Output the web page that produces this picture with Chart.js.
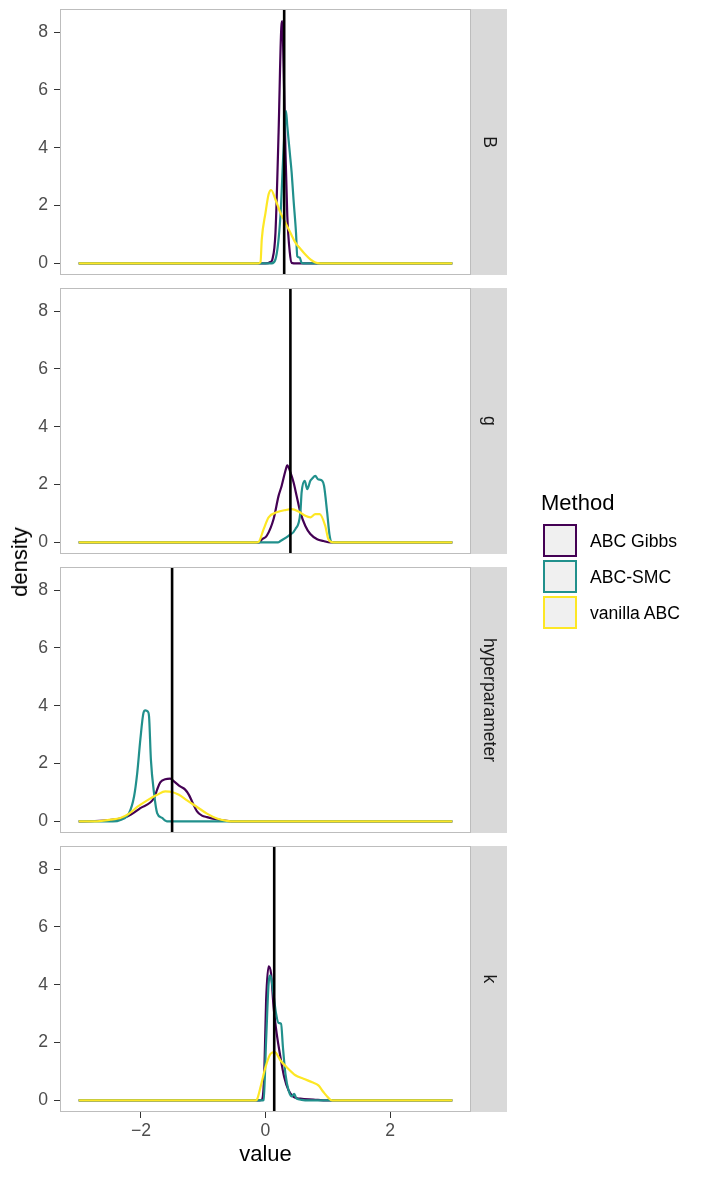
<!DOCTYPE html>
<html>
<head>
<meta charset="utf-8">
<script src="https://cdn.jsdelivr.net/npm/chart.js@4"></script>
<style>
body{margin:0;background:#fff;font-family:"Liberation Sans",Arial,sans-serif}
#wrap{position:relative;width:709px;height:1180px;overflow:hidden}
canvas{position:absolute;left:0}
#ytitle{position:absolute;left:20px;top:562px;font-size:22px;line-height:26px;color:#000;white-space:nowrap;transform:translate(-50%,-50%) rotate(-90deg)}
#legTitle{position:absolute;left:541px;top:490px;font-size:22px;line-height:26px;color:#000}
.key{position:absolute;left:543px;width:34px;height:33px;box-sizing:border-box;border:2px solid;background:#F0F0F0}
.keyLab{position:absolute;left:590px;font-size:17.6px;line-height:20px;color:#000;white-space:nowrap}
</style>
</head>
<body>
<div id="wrap">
  <canvas id="p0" width="709" height="279" style="top:0px"></canvas>
  <canvas id="p1" width="709" height="279" style="top:279px"></canvas>
  <canvas id="p2" width="709" height="279" style="top:558px"></canvas>
  <canvas id="p3" width="709" height="343" style="top:837px"></canvas>
  <div id="ytitle">density</div>
  <div id="legTitle">Method</div>
  <div id="legend"></div>
</div>
<script>
// facets, methods, ticks
const panels  = ['B','g','hyperparameter','k'];
const methods = ['ABC Gibbs','ABC-SMC','vanilla ABC'];
const colors  = ['#440154','#21908C','#FDE725'];
const xTicks  = [-2,0,2];
const yTicks  = [0,2,4,6,8];
const trueValues = [0.30,0.40,-1.50,0.14];

// density curves [value, density]
const gibbsB = [[-3,0],[0.0,0],[0.08,0.05],[0.11,0.14],[0.16,1.06],[0.21,4.52],[0.25,7.98],[0.27,8.38],[0.29,6.83],[0.32,3.94],[0.35,1.64],[0.39,0.38],[0.42,0.02],[0.5,0],[3,0]];
const smcB   = [[-3,0],[0.1,0],[0.16,0.14],[0.24,1.64],[0.29,3.94],[0.33,5.27],[0.35,4.75],[0.39,3.83],[0.42,3.14],[0.45,2.21],[0.49,1.06],[0.51,0.25],[0.55,0.2],[0.58,0.02],[0.65,0],[3,0]];
const vanB   = [[-3,0],[-0.12,0],[-0.08,0.05],[-0.06,0.83],[0.0,1.75],[0.05,2.39],[0.09,2.54],[0.16,2.21],[0.24,1.75],[0.32,1.41],[0.40,1.06],[0.48,0.72],[0.56,0.51],[0.64,0.31],[0.72,0.14],[0.80,0.03],[0.88,0],[3,0]];

const gibbsG = [[-3,0],[-0.1,0],[-0.06,0.1],[0.02,0.23],[0.13,0.81],[0.21,1.61],[0.26,1.96],[0.32,2.48],[0.35,2.67],[0.40,2.42],[0.45,2.08],[0.50,1.61],[0.56,1.04],[0.64,0.57],[0.72,0.29],[0.83,0.11],[0.93,0.05],[1.04,0],[3,0]];
const smcG   = [[-3,0],[0.2,0],[0.24,0.05],[0.37,0.23],[0.48,0.46],[0.56,1.04],[0.58,1.73],[0.63,2.13],[0.67,1.84],[0.72,2.13],[0.75,2.21],[0.80,2.30],[0.84,2.19],[0.91,2.13],[0.94,1.96],[0.99,1.04],[1.03,0.23],[1.07,0],[3,0]];
const vanG   = [[-3,0],[-0.15,0],[-0.11,0.02],[-0.03,0.46],[0.05,0.87],[0.18,1.04],[0.32,1.12],[0.42,1.15],[0.53,1.07],[0.64,0.92],[0.72,0.87],[0.80,0.98],[0.87,0.98],[0.96,0.57],[1.01,0.11],[1.09,0],[3,0]];

const gibbsH = [[-3,0],[-2.8,0.01],[-2.5,0.05],[-2.22,0.17],[-2.01,0.46],[-1.79,0.81],[-1.74,1.10],[-1.69,1.35],[-1.61,1.46],[-1.53,1.48],[-1.45,1.35],[-1.37,1.21],[-1.29,1.10],[-1.23,0.92],[-1.18,0.69],[-1.10,0.35],[-1.02,0.20],[-0.94,0.15],[-0.80,0.08],[-0.62,0.02],[-0.5,0],[3,0]];
const smcH   = [[-3,0],[-2.45,0],[-2.33,0.05],[-2.19,0.29],[-2.11,0.87],[-2.06,1.67],[-2.01,2.83],[-1.96,3.75],[-1.93,3.84],[-1.89,3.80],[-1.87,3.63],[-1.84,2.13],[-1.79,0.98],[-1.74,0.29],[-1.66,0.12],[-1.61,0.03],[-1.58,0],[3,0]];
const vanH   = [[-3,0],[-2.75,0],[-2.49,0.06],[-2.33,0.12],[-2.19,0.27],[-2.06,0.50],[-1.90,0.73],[-1.74,0.92],[-1.61,1.04],[-1.50,1.02],[-1.39,0.92],[-1.26,0.73],[-1.10,0.50],[-0.94,0.27],[-0.78,0.10],[-0.62,0.02],[-0.51,0],[3,0]];

const gibbsK = [[-3,0],[-0.1,0],[-0.06,0.02],[-0.02,0.92],[0.01,3.46],[0.05,4.64],[0.09,4.38],[0.13,3.23],[0.18,2.31],[0.24,1.50],[0.30,0.81],[0.37,0.35],[0.45,0.12],[0.56,0.06],[0.77,0.03],[0.99,0],[3,0]];
const smcK   = [[-3,0],[-0.06,0],[-0.03,0.02],[0.01,2.08],[0.05,4.04],[0.08,4.33],[0.12,3.81],[0.17,3.00],[0.21,2.68],[0.25,2.65],[0.28,1.84],[0.32,0.92],[0.37,0.35],[0.42,0.14],[0.46,0.23],[0.50,0.06],[0.58,0.02],[0.66,0],[3,0]];
const vanK   = [[-3,0],[-0.16,0],[-0.14,0.02],[-0.08,0.46],[0.0,1.15],[0.08,1.61],[0.15,1.67],[0.24,1.38],[0.34,1.15],[0.48,0.87],[0.61,0.75],[0.75,0.63],[0.85,0.52],[0.93,0.29],[1.01,0.09],[1.07,0],[3,0]];

const curves = [[gibbsB,smcB,vanB],[gibbsG,smcG,vanG],[gibbsH,smcH,vanH],[gibbsK,smcK,vanK]];

const X_MIN=-3.3, X_MAX=3.3, Y_MIN=-0.4, Y_MAX=8.8;

Chart.defaults.font.family='"Liberation Sans", Arial, sans-serif';

// legend
const leg=document.getElementById('legend');
methods.forEach((m,i)=>{
  const top=524+i*36;
  const k=document.createElement('div');
  k.className='key'; k.style.top=top+'px'; k.style.borderColor=colors[i];
  leg.appendChild(k);
  const l=document.createElement('div');
  l.className='keyLab'; l.style.top=(top+16.5-10)+'px'; l.textContent=m;
  leg.appendChild(l);
});

// panel border + facet strip
const panelDeco={
  id:'panelDeco',
  afterDatasetsDraw(chart,args,opts){
    const {ctx,chartArea:a}=chart;
    ctx.save();
    ctx.strokeStyle='#BDBDBD'; ctx.lineWidth=1;
    ctx.strokeRect(a.left+0.5,a.top+0.5,a.width-1,a.height-1);
    ctx.fillStyle='#D9D9D9';
    ctx.fillRect(a.right,a.top,36,a.height);
    ctx.translate(a.right+18,(a.top+a.bottom)/2);
    ctx.rotate(Math.PI/2);
    ctx.fillStyle='#1A1A1A';
    ctx.font='17.6px "Liberation Sans", Arial, sans-serif';
    ctx.textAlign='center'; ctx.textBaseline='middle';
    ctx.fillText(opts.label,0,0);
    ctx.restore();
  }
};

const fmt=v=>v<0?'\u2212'+Math.abs(v):String(v);
const pts=arr=>arr.map(([x,y])=>({x,y}));
const noPad=s=>{s.paddingTop=0;s.paddingBottom=0;s.paddingLeft=0;s.paddingRight=0;};

function makePanel(i){
  const last=i===panels.length-1;
  // first dataset is drawn on top
  const datasets=[{
    data:[{x:trueValues[i],y:Y_MIN},{x:trueValues[i],y:Y_MAX}],
    borderColor:'#000',borderWidth:2.6
  }];
  for(let m=methods.length-1;m>=0;m--){
    datasets.push({label:methods[m],data:pts(curves[i][m]),borderColor:colors[m],borderWidth:2.2,cubicInterpolationMode:'monotone'});
  }
  return new Chart(document.getElementById('p'+i),{
    type:'line',
    data:{datasets},
    plugins:[panelDeco],
    options:{
      responsive:false,animation:false,devicePixelRatio:1,
      layout:{padding:{left:0,right:238,top:9,bottom:last?0:4}},
      elements:{point:{radius:0}},
      plugins:{legend:{display:false},tooltip:{enabled:false},panelDeco:{label:panels[i]}},
      scales:{
        x:{
          type:'linear',min:X_MIN,max:X_MAX,display:last,
          afterBuildTicks:s=>{s.ticks=xTicks.map(v=>({value:v}));},
          afterFit:s=>{s.height=last?68:0;noPad(s);},
          grid:{drawOnChartArea:false,tickLength:6,tickColor:'#333333'},
          border:{display:false},
          ticks:{color:'#4D4D4D',font:{size:17.6},padding:3,maxRotation:0,callback:v=>fmt(v)},
          title:{display:true,text:'value',color:'#000',font:{size:22},padding:{top:0,bottom:12}}
        },
        y:{
          type:'linear',min:Y_MIN,max:Y_MAX,
          afterBuildTicks:s=>{s.ticks=yTicks.map(v=>({value:v}));},
          afterFit:s=>{s.width=60;noPad(s);},
          grid:{drawOnChartArea:false,tickLength:6,tickColor:'#333333'},
          border:{display:false},
          ticks:{color:'#4D4D4D',font:{size:17.6},padding:6,callback:v=>fmt(v)}
        }
      }
    }
  });
}

panels.forEach((p,i)=>makePanel(i));
</script>
</body>
</html>
